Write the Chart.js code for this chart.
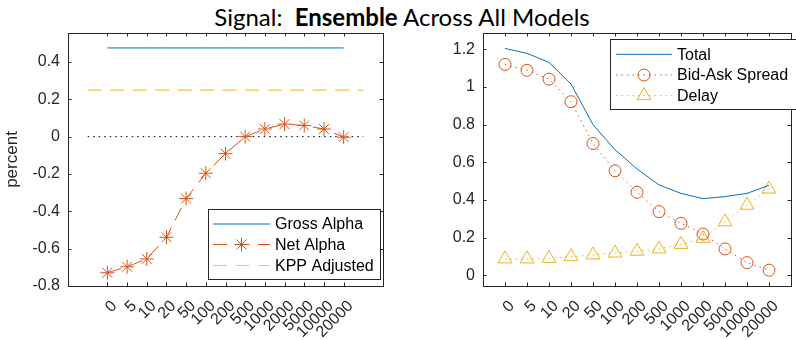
<!DOCTYPE html>
<html><head><meta charset="utf-8">
<script src="https://cdn.jsdelivr.net/npm/chart.js@4/dist/chart.umd.min.js"></script>
<style>
html,body{margin:0;padding:0;background:#fff;}
#wrap{position:relative;width:796px;height:340px;overflow:hidden;background:#fff;}
#title{position:absolute;left:0;top:0;width:804px;text-align:center;font-family:Lato,"DejaVu Sans",sans-serif;font-size:24px;color:#000;line-height:34px;white-space:pre;}
canvas{position:absolute;top:0;}
</style></head><body>
<div id="wrap">
<div id="title">Signal:  <b>Ensemble</b> Across All Models</div>
<canvas id="c1" width="400" height="340" style="left:0;width:400px;height:340px"></canvas>
<canvas id="c2" width="400" height="340" style="left:400px;width:400px;height:340px"></canvas>
</div>
<script>
// ---- data ----
const categories = ['0','5','10','20','50','100','200','500','1000','2000','5000','10000','20000'];
const grossAlpha = [0.475,0.475,0.475,0.475,0.475,0.475,0.475,0.475,0.475,0.475,0.475,0.475,0.475];
const netAlpha = [-0.729,-0.697,-0.655,-0.539,-0.332,-0.196,-0.091,0.0,0.041,0.067,0.060,0.041,-0.003];
const kppAdjusted = 0.249;
const zeroLevel = 0;
const total = [1.205,1.179,1.131,1.016,0.800,0.667,0.565,0.480,0.435,0.407,0.418,0.435,0.478];
const bidAskSpread = [1.120,1.089,1.042,0.922,0.700,0.555,0.441,0.338,0.276,0.219,0.140,0.067,0.027];
const delay = [0.087,0.087,0.090,0.099,0.108,0.118,0.128,0.140,0.164,0.196,0.284,0.372,0.458];
const leftYTicks = [-0.8,-0.6,-0.4,-0.2,0,0.2,0.4];
const rightYTicks = [0,0.2,0.4,0.6,0.8,1,1.2];

// ---- style ----
const BLUE = '#0072BD', ORANGE = '#D95319', YELLOW = '#EDB120', AX = '#262626';
const FONT = '"Liberation Sans", Arial, sans-serif';
const DASH = [14, 8.5], DOT = [1.5, 4];

const pts = arr => arr.map((v, i) => ({x: i, y: v}));
const hline = (v, a, b) => [{x: a, y: v}, {x: b, y: v}];
const fmt = v => String(Math.round(v * 10) / 10);

const matlabAxes = {
  id: 'matlabAxes',
  afterDatasetsDraw(chart, args, o) {
    const ctx = chart.ctx, a = chart.chartArea;
    const xs = chart.scales.x, ys = chart.scales.y;
    ctx.save();
    ctx.strokeStyle = AX; ctx.lineWidth = 1; ctx.setLineDash([]);
    const tl = 3.5;
    ctx.beginPath();
    o.yTicks.forEach(v => {
      const p = Math.round(ys.getPixelForValue(v)) + 0.5;
      ctx.moveTo(a.left, p); ctx.lineTo(a.left + tl, p);
      ctx.moveTo(a.right, p); ctx.lineTo(a.right - tl, p);
    });
    categories.forEach((c, i) => {
      const p = Math.round(xs.getPixelForValue(i)) + 0.5;
      ctx.moveTo(p, a.bottom); ctx.lineTo(p, a.bottom - tl);
      ctx.moveTo(p, a.top); ctx.lineTo(p, a.top + tl);
    });
    ctx.stroke();
    ctx.strokeRect(Math.round(a.left) + 0.5, Math.round(a.top) + 0.5, Math.round(a.right - a.left), Math.round(a.bottom - a.top));
    // rotated x labels
    ctx.fillStyle = AX; ctx.font = '16px ' + FONT;
    ctx.textAlign = 'right'; ctx.textBaseline = 'middle';
    categories.forEach((c, i) => {
      const p = xs.getPixelForValue(i);
      ctx.save();
      ctx.translate(p + 7, a.bottom + 17.5);
      ctx.rotate(-Math.PI / 4);
      ctx.fillText(c, 0, 0);
      ctx.restore();
    });
    // legend
    const L = o.legend;
    ctx.fillStyle = '#fff';
    ctx.fillRect(L.x, L.y, L.w, L.h);
    ctx.strokeStyle = AX; ctx.lineWidth = 1;
    ctx.strokeRect(L.x + 0.5, L.y + 0.5, L.w, L.h);
    L.items.forEach((it, k) => {
      const y = L.rows[k];
      ctx.strokeStyle = it.color; ctx.lineWidth = 1;
      ctx.setLineDash(it.dash || []);
      ctx.beginPath(); ctx.moveTo(L.lx0, y); ctx.lineTo(L.lx1, y); ctx.stroke();
      ctx.setLineDash([]);
      if (it.pointStyle) {
        ctx.fillStyle = 'rgba(0,0,0,0)';
        Chart.helpers.drawPoint(ctx, {pointStyle: it.pointStyle, radius: it.radius, borderWidth: 1, rotation: 0}, (L.lx0 + L.lx1) / 2, y);
      }
      ctx.fillStyle = '#000'; ctx.font = '16px ' + FONT;
      ctx.textAlign = 'left'; ctx.textBaseline = 'middle';
      ctx.fillText(it.label, L.tx, y + 1);
    });
    ctx.restore();
  }
};

function makeChart(id, datasets, xr, yr, yTicks, padRight, yWidth, yTitle, legend) {
  return new Chart(document.getElementById(id), {
    type: 'line',
    data: {datasets},
    plugins: [matlabAxes],
    options: {
      responsive: false, animation: false, devicePixelRatio: 1,
      layout: {padding: {left: 0, right: padRight, top: 33, bottom: 0}},
      plugins: {legend: {display: false}, tooltip: {enabled: false}, title: {display: false},
        matlabAxes: {yTicks, legend}},
      scales: {
        x: {type: 'linear', min: xr[0], max: xr[1],
          grid: {display: false}, border: {display: false}, ticks: {display: false},
          afterFit: s => { s.height = 54; }},
        y: {type: 'linear', min: yr[0], max: yr[1],
          grid: {display: false, drawTicks: false}, border: {display: false},
          afterBuildTicks: s => { s.ticks = yTicks.map(v => ({value: v})); },
          ticks: {padding: 8, color: AX, font: {family: FONT, size: 16}, callback: v => fmt(v)},
          title: yTitle ? {display: true, text: yTitle, color: AX, font: {family: FONT, size: 17}, padding: {top: 2, bottom: 0}} : {display: false},
          afterFit: s => { s.width = yWidth; }}
      }
    }
  });
}

const n = categories.length;
makeChart('c1', [
  {data: pts(grossAlpha), borderColor: BLUE, borderWidth: 1, pointRadius: 0, tension: 0},
  {data: pts(netAlpha), borderColor: ORANGE, borderWidth: 1, borderDash: DASH, pointStyle: 'star', pointRadius: 7, pointBorderWidth: 1, pointBorderColor: ORANGE, pointBackgroundColor: 'rgba(0,0,0,0)', tension: 0},
  {data: hline(kppAdjusted, -1, n), borderColor: YELLOW, borderWidth: 1, borderDash: DASH, pointRadius: 0},
  {data: hline(zeroLevel, -1, n), borderColor: '#000', borderWidth: 1, borderDash: DOT, pointRadius: 0}
], [-2, n + 1], [-0.8, 0.555], leftYTicks, 17, 68, 'percent', {
  x: 208, y: 209, w: 172, h: 70, rows: [224, 244.5, 265.5], lx0: 213, lx1: 270, tx: 275,
  items: [
    {label: 'Gross Alpha', color: BLUE},
    {label: 'Net Alpha', color: ORANGE, dash: DASH, pointStyle: 'star', radius: 7},
    {label: 'KPP Adjusted', color: 'rgba(237,177,32,0.7)', dash: DASH}
  ]
});

makeChart('c2', [
  {data: pts(total), borderColor: BLUE, borderWidth: 1, pointRadius: 0, tension: 0},
  {data: pts(bidAskSpread), borderColor: ORANGE, borderWidth: 1, borderDash: DOT, pointStyle: 'circle', pointRadius: 6, pointBorderWidth: 1, pointBorderColor: ORANGE, pointBackgroundColor: 'rgba(0,0,0,0)', tension: 0},
  {data: pts(delay), borderColor: YELLOW, borderWidth: 1, borderDash: DOT, pointStyle: 'triangle', pointRadius: 8, pointBorderWidth: 1, pointBorderColor: YELLOW, pointBackgroundColor: 'rgba(0,0,0,0)', tension: 0}
], [-1, n], [-0.057, 1.287], rightYTicks, 3, 83, null, {
  x: 210, y: 39, w: 186, h: 70, rows: [54.3, 75, 95.7], lx0: 216, lx1: 272, tx: 277,
  items: [
    {label: 'Total', color: BLUE},
    {label: 'Bid-Ask Spread', color: ORANGE, dash: DOT, pointStyle: 'circle', radius: 6},
    {label: 'Delay', color: YELLOW, dash: DOT, pointStyle: 'triangle', radius: 8}
  ]
});
</script>
</body></html>
